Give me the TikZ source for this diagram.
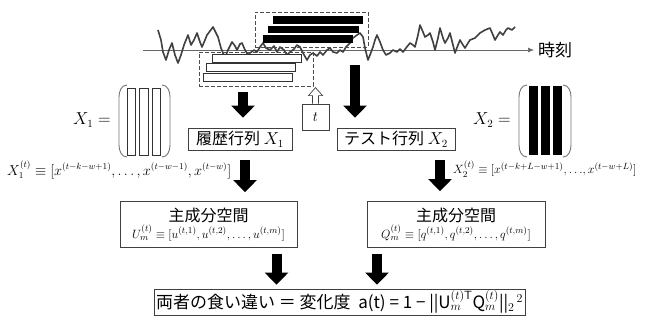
\documentclass[tikz,border=0pt]{standalone}
\usepackage{amsmath,amssymb}
\usepackage{fontspec}
\newfontfamily\jp{Noto Sans CJK JP}
\usetikzlibrary{arrows.meta,calc}

\begin{document}
\begin{tikzpicture}[x=1pt, y=-1pt,
  box/.style={draw=black!75, line width=0.8pt, fill=white, inner sep=1pt, font=\jp\fontsize{16}{18}\selectfont},
  win/.style={draw=black!70, dash pattern=on 4pt off 2pt, line width=0.7pt, inner sep=0pt},
  fat/.style={line width=10pt, -{Triangle[length=12pt,width=23pt]}},
  bar/.style={draw=black!80, line width=0.6pt},
  paren/.style={draw=black!55, line width=0.9pt},
  mathtxt/.style={font=\fontsize{13.5}{15}\selectfont}]
\useasboundingbox (0,0) rectangle (647,322);

% time axis and series
\node[anchor=west, font=\jp\fontsize{17}{19}\selectfont, inner sep=1pt] (jikoku) at (537,50) {時刻};
\draw[black!60, line width=0.7pt, -{Latex[length=6pt,width=5pt]}] (143,50) -- ([xshift=-3pt]jikoku.west);
\draw[black!75, line width=1.6pt, line join=round] plot coordinates {
(158,30) (161,40) (163,52) (166,60) (169,50) (172,43) (175,55) (178,63) (181,55) (184,45)
(188,35) (191,45) (194,40) (197,33) (200,42) (202,47) (205,40) (207,35) (210,31) (213,27)
(216,33) (218,37) (221,48) (225,58) (228,50) (232,42) (235,46) (237,50) (240,44) (242,43)
(245,50) (248,55) (250,53) (254,50) (257,52) (260,47) (263,43) (266,48) (270,50) (274,46)
(277,52) (280,47) (284,50) (287,55) (290,52) (294,49) (297,45) (300,47) (303,53) (307,60)
(310,55) (313,53) (317,56) (320,52) (323,55) (327,50) (330,48) (333,52) (337,53) (340,50)
(343,52) (346,47) (350,43) (353,38) (357,35) (360,33) (363,37) (365,48) (368,60) (370,55)
(373,47) (375,40) (377,35) (380,42) (383,50) (386,55) (390,53) (393,50) (397,52) (400,49)
(403,52) (406,48) (410,43) (413,45) (415,47) (418,35) (420,25) (423,32) (425,37) (428,35)
(430,33) (433,42) (435,50) (438,38) (440,28) (443,38) (445,43) (448,38) (450,33) (453,45)
(455,53) (458,45) (460,40) (463,45) (465,48) (468,43) (470,40) (475,38) (480,33) (485,30)
(490,28) (493,35) (495,40) (498,35) (500,32) (503,35) (506,30) (508,28) (512,30) (515,27)};

% sliding windows
\node[win, minimum width=114pt, minimum height=34pt] (histwin) at (256,69) {};
\node[win, minimum width=113pt, minimum height=35pt] (testwin) at (311.5,29.5) {};
\draw[bar, fill=white] (212,54) rectangle (301,62);
\draw[bar, fill=white] (206,63) rectangle (295,71);
\draw[bar, fill=white] (203,73) rectangle (292,81);
\fill (273,16) rectangle (363,24);
\fill (268,26) rectangle (359,33);
\fill (263,35) rectangle (353,43);

% matrices
\node[left, font=\fontsize{16}{18}\selectfont] (lblA) at (114,120) {$X_1 =$};
\node[left, font=\fontsize{16}{18}\selectfont] (lblB) at (514,120) {$X_2 =$};
\foreach \x in {127,139.5,152}
  \draw[bar, fill=white] (\x,88) rectangle ++(8.5,67);
\foreach \x in {529,541,553}
  \fill (\x,86) rectangle ++(9,69);
\foreach \l/\r in {119/170, 519/571}{
  \draw[paren] (\l+8,85) to[out=180,in=90] (\l,97) -- (\l,145) to[out=-90,in=180] (\l+8,157);
  \draw[paren] (\r-8,85) to[out=0,in=90] (\r,97) -- (\r,145) to[out=-90,in=0] (\r-8,157);
}

% matrix boxes
\node[box, minimum width=104pt, minimum height=22pt] (hist) at (240,139) {履歴行列\ $X_1$};
\node[box, minimum width=118pt, minimum height=22pt] (test) at (396,139) {テスト行列\ $X_2$};
\node[box, minimum width=27pt, minimum height=26pt, font=\fontsize{14}{16}\selectfont] (tbox) at (315.5,117) {$t$};
\draw[black!75, line width=0.7pt, fill=white] ([xshift=-3pt]tbox.north) -- ++(0,-8) -- ++(-4,0)
  -- ++(7,-8) -- ++(7,8) -- ++(-4,0) -- ([xshift=3pt]tbox.north);

\node[mathtxt, anchor=west, inner sep=0pt] (defA) at (7,170)
  {$X_1^{(t)} \equiv [x^{(t-k-w+1)}, \dots, x^{(t-w-1)}, x^{(t-w)}]$};
\node[mathtxt, anchor=west, inner sep=0pt, font=\fontsize{12.5}{14}\selectfont] (defB) at (453,169)
  {$X_2^{(t)} \equiv [x^{(t-k+L-w+1)},\mathord{\ldots},x^{(t-w+L)}]$};

% subspaces
\node[box, minimum width=177pt, minimum height=46pt, align=center] (pcaU) at (208.5,224.5)
  {主成分空間\\[-1pt]{\fontsize{13}{15}\selectfont $U_m^{(t)} \equiv [u^{(t,1)}, u^{(t,2)}, \dots, u^{(t,m)}]$}};
\node[box, minimum width=178pt, minimum height=46pt, align=center] (pcaQ) at (456,224.5)
  {主成分空間\\[-1pt]{\fontsize{13}{15}\selectfont $Q_m^{(t)} \equiv [q^{(t,1)}, q^{(t,2)}, \dots, q^{(t,m)}]$}};

\node[box, minimum width=371pt, minimum height=26pt, font=\jp\fontsize{17}{19}\selectfont] (diff) at (339.5,302)
  {両者の食い違い ＝ 変化度 \ a(t) = 1 − ||U$_m^{(t)\mathsf{T}}$Q$_m^{(t)}$||$_2{}^{\,2}$};

% fat arrows
\coordinate (testtop) at (355,65);
\draw[fat, shorten <=6pt, shorten >=10pt] ([xshift=-13pt]histwin.south) -- ([xshift=-13pt]histwin.south |- hist.north);
\draw[fat, shorten >=10pt] (testtop) -- (testtop |- test.north);
\draw[fat, shorten <=10pt, shorten >=9pt] ([xshift=5pt]hist.south) -- ([xshift=5pt]hist.south |- pcaU.north);
\draw[fat, shorten <=10pt, shorten >=10pt] ([xshift=44pt]test.south) -- ([xshift=44pt]test.south |- pcaQ.north);
\draw[fat, shorten <=6pt, shorten >=4pt] ([xshift=68pt]pcaU.south) -- ([xshift=68pt]pcaU.south |- diff.north);
\draw[fat, shorten <=6pt, shorten >=4pt] ([xshift=-79pt]pcaQ.south) -- ([xshift=-79pt]pcaQ.south |- diff.north);
\end{tikzpicture}
\end{document}
